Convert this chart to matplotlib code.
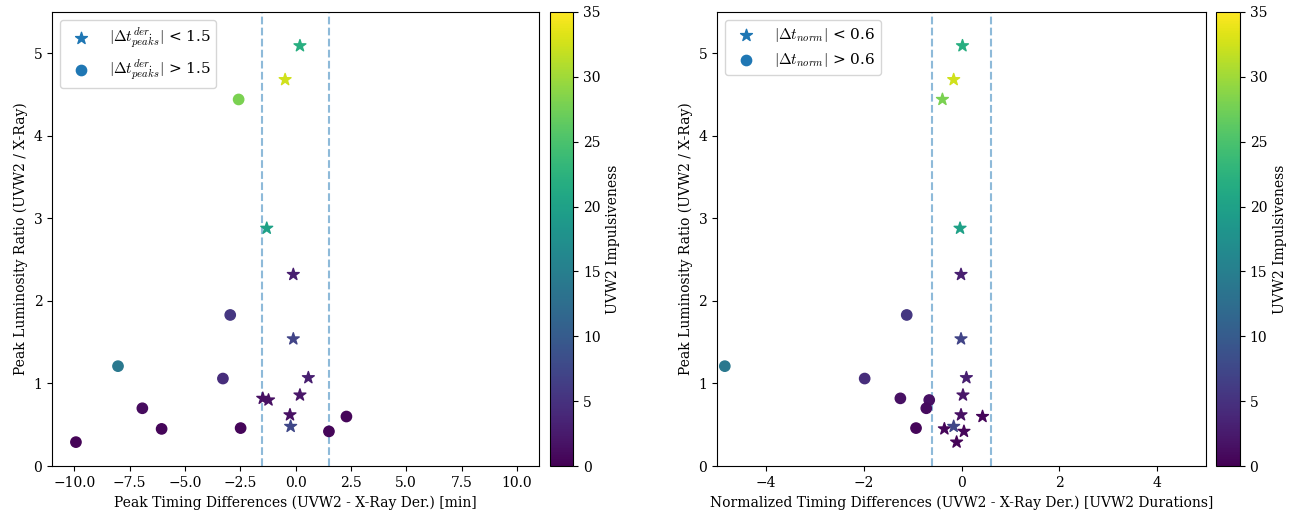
import numpy as np
import matplotlib
matplotlib.use("Agg")
import matplotlib.pyplot as plt
from matplotlib.colors import Normalize

plt.rcParams["font.family"] = "serif"
plt.rcParams["mathtext.fontset"] = "cm"

# peak luminosity ratio (UVW2 / X-ray), shared by both panels
lum_ratio = [5.09, 4.68, 4.44, 2.88, 2.32, 1.83, 1.54, 1.21, 1.06, 1.07, 0.86,
             0.82, 0.80, 0.70, 0.62, 0.60, 0.45, 0.46, 0.48, 0.42, 0.29]
# peak timing differences [min]
dt_peaks = [0.2, -0.47, -2.57, -1.3, -0.1, -2.95, -0.1, -8.02, -3.28, 0.58, 0.2,
            -1.48, -1.22, -6.92, -0.25, 2.3, -6.05, -2.48, -0.22, 1.51, -9.92]
# normalized timing differences [UVW2 durations]
dt_norm = [0.02, -0.16, -0.39, -0.03, -0.01, -1.12, -0.01, -4.84, -1.98, 0.1, 0.03,
           -1.25, -0.66, -0.72, -0.01, 0.43, -0.35, -0.93, -0.16, 0.05, -0.1]
# UVW2 impulsiveness
impulsiveness = [22, 32.5, 28, 20, 3, 5.5, 7, 14, 4.5, 3, 2,
                 1.5, 1.5, 1, 1.5, 0.5, 0.5, 0.5, 7.5, 0.5, 0.3]

peaks_cut = 1.5
norm_cut = 0.6


def panel(ax, cax, x, cut, xlabel, lab_lt, lab_gt, xlim):
    x = np.asarray(x)
    y = np.asarray(lum_ratio)
    c = np.asarray(impulsiveness)
    norm = Normalize(vmin=0, vmax=35)
    inside = np.abs(x) < cut

    sc = ax.scatter(x[inside], y[inside], c=c[inside], cmap="viridis", norm=norm,
                    marker="*", s=80, zorder=3)
    ax.scatter(x[~inside], y[~inside], c=c[~inside], cmap="viridis", norm=norm,
               marker="o", s=55, zorder=3)
    ax.axvline(-cut, color="C0", ls="--", alpha=0.5, lw=1.5)
    ax.axvline(cut, color="C0", ls="--", alpha=0.5, lw=1.5)

    # legend handles in plain C0
    ax.scatter([], [], marker="*", color="C0", s=80, label=lab_lt)
    ax.scatter([], [], marker="o", color="C0", s=55, label=lab_gt)
    ax.legend(loc="upper left", fontsize=11)

    ax.set_xlim(*xlim)
    ax.set_ylim(0, 5.5)
    ax.set_xlabel(xlabel)
    ax.set_ylabel("Peak Luminosity Ratio (UVW2 / X-Ray)")

    cb = plt.colorbar(sc, cax=cax)
    cb.set_label("UVW2 Impulsiveness")


fig = plt.figure(figsize=(13.01, 5.19), dpi=100)
ax1 = fig.add_axes([0.040, 0.102, 0.3743, 0.875])
cax1 = fig.add_axes([0.4228, 0.102, 0.0180, 0.875])
ax2 = fig.add_axes([0.5511, 0.102, 0.3759, 0.875])
cax2 = fig.add_axes([0.9350, 0.102, 0.0180, 0.875])

panel(ax1, cax1, dt_peaks, peaks_cut,
      "Peak Timing Differences (UVW2 - X-Ray Der.) [min]",
      r"$|\Delta t^{der.}_{peaks}|$ < 1.5", r"$|\Delta t^{der.}_{peaks}|$ > 1.5",
      (-11, 11))
panel(ax2, cax2, dt_norm, norm_cut,
      "Normalized Timing Differences (UVW2 - X-Ray Der.) [UVW2 Durations]",
      r"$|\Delta t_{norm}|$ < 0.6", r"$|\Delta t_{norm}|$ > 0.6",
      (-5, 5))

fig.savefig("out.png", dpi=100)
